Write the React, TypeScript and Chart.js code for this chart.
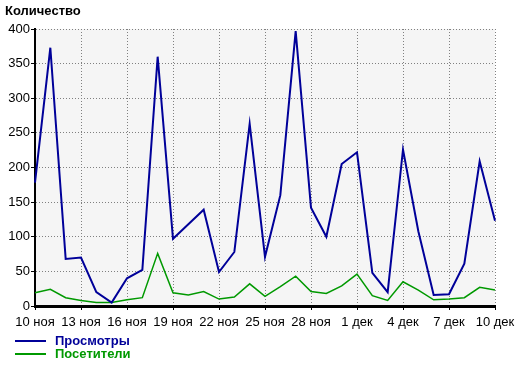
import React, { useEffect, useRef } from "react";
import { Chart, registerables } from "chart.js";

Chart.register(...registerables);

const DAYS: string[] = [
  "10 ноя", "11 ноя", "12 ноя", "13 ноя", "14 ноя", "15 ноя", "16 ноя", "17 ноя",
  "18 ноя", "19 ноя", "20 ноя", "21 ноя", "22 ноя", "23 ноя", "24 ноя", "25 ноя",
  "26 ноя", "27 ноя", "28 ноя", "29 ноя", "30 ноя", "1 дек", "2 дек", "3 дек",
  "4 дек", "5 дек", "6 дек", "7 дек", "8 дек", "9 дек", "10 дек",
];

const VIEWS: number[] = [
  178, 373, 68, 70, 20, 5, 40, 52, 360, 97, 118, 139, 49, 78, 263, 71,
  160, 397, 142, 100, 205, 222, 48, 20, 226, 108, 16, 17, 61, 209, 123,
];

const VISITORS: number[] = [
  19, 24, 12, 8, 5, 5, 9, 12, 76, 19, 16, 21, 10, 13, 32, 14,
  28, 43, 21, 18, 29, 46, 15, 8, 35, 23, 9, 10, 12, 27, 23,
];

const Y_TICKS: number[] = [0, 50, 100, 150, 200, 250, 300, 350, 400];

const TITLE = "Количество";
const SERIES_NAMES = ["Просмотры", "Посетители"];
const COLORS = ["#000099", "#009900"];

const FONT = "'Liberation Sans', Arial, sans-serif";

export default function App() {
  const ref = useRef<HTMLCanvasElement | null>(null);

  useEffect(() => {
    if (!ref.current) return;
    const bgPlugin = {
      id: "plotBg",
      beforeDraw(chart: any) {
        const { ctx, chartArea } = chart;
        ctx.save();
        ctx.fillStyle = "#f5f5f5";
        ctx.fillRect(chartArea.left, chartArea.top, chartArea.right - chartArea.left, chartArea.bottom - chartArea.top);
        ctx.restore();
      },
    };
    const chart = new Chart(ref.current, {
      type: "line",
      data: {
        labels: DAYS,
        datasets: [
          {
            label: SERIES_NAMES[0],
            data: VIEWS,
            borderColor: COLORS[0],
            backgroundColor: COLORS[0],
            borderWidth: 2,
            pointRadius: 0,
            tension: 0,
          },
          {
            label: SERIES_NAMES[1],
            data: VISITORS,
            borderColor: COLORS[1],
            backgroundColor: COLORS[1],
            borderWidth: 1.5,
            pointRadius: 0,
            tension: 0,
          },
        ],
      },
      options: {
        animation: false,
        responsive: false,
        maintainAspectRatio: false,
        layout: { padding: { left: 0, right: 25, top: 29, bottom: 0 } },
        plugins: {
          legend: { display: false },
          title: { display: false },
          tooltip: { enabled: false },
        },
        scales: {
          x: {
            type: "category",
            offset: false,
            afterFit(scale: any) {
              scale.height = 60;
            },
            border: { display: true, color: "#000", width: 3, dash: [1, 2] },
            grid: {
              drawOnChartArea: true,
              color: (c: any) => (c.index % 3 === 0 ? "#808080" : "rgba(0,0,0,0)"),
              tickColor: (c: any) => (c.index % 3 === 0 ? "#000" : "rgba(0,0,0,0)"),
              tickLength: 4,
              tickWidth: 1,
              lineWidth: 1,
            },
            ticks: {
              autoSkip: false,
              maxRotation: 0,
              minRotation: 0,
              padding: 5,
              color: "#000",
              font: { family: FONT, size: 13 },
              callback: (_v: any, i: number) => (i % 3 === 0 ? DAYS[i] : ""),
            },
          },
          y: {
            min: Y_TICKS[0],
            max: Y_TICKS[Y_TICKS.length - 1],
            afterFit(scale: any) {
              scale.width = 35;
            },
            afterBuildTicks(scale: any) {
              scale.ticks = Y_TICKS.map((v) => ({ value: v }));
            },
            border: { display: true, color: "#000", width: 2, dash: [1, 2] },
            grid: {
              color: "#808080",
              tickColor: "#000",
              tickLength: 4,
              lineWidth: 1,
            },
            ticks: {
              padding: 1,
              color: "#000",
              font: { family: FONT, size: 13 },
            },
          },
        },
      },
      plugins: [bgPlugin],
    } as any);
    return () => chart.destroy();
  }, []);

  return (
    <div style={{ position: "fixed", left: 0, top: 0, width: 520, height: 366, background: "#fff", fontFamily: FONT }}>
      <canvas ref={ref} width={520} height={366} style={{ position: "absolute", left: 0, top: 0, width: 520, height: 366 }} />
      <div style={{ position: "absolute", left: 5, top: 3, fontWeight: "bold", fontSize: 13, color: "#000", lineHeight: "16px" }}>
        {TITLE}
      </div>
      {SERIES_NAMES.map((name, i) => (
        <div key={name} style={{ position: "absolute", left: 15, top: 334 + i * 13, height: 14, display: "flex", alignItems: "center" }}>
          <div style={{ width: 31, height: 2, background: COLORS[i] }} />
          <div style={{ marginLeft: 9, fontWeight: "bold", fontSize: 13, color: COLORS[i], lineHeight: "14px" }}>{name}</div>
        </div>
      ))}
    </div>
  );
}
